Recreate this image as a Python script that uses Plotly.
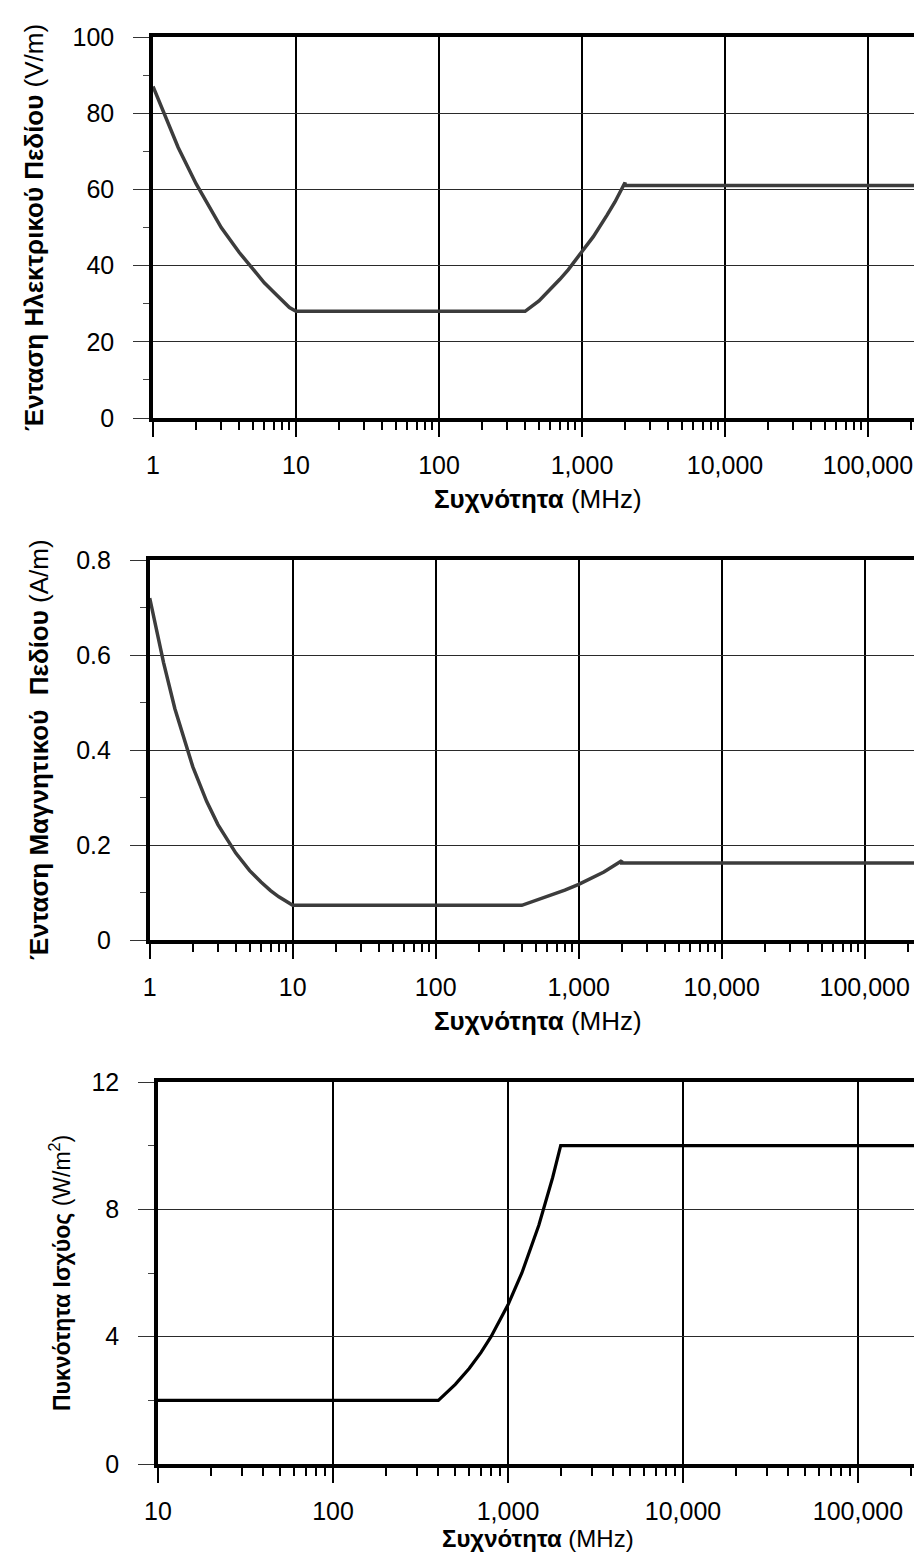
import math
import plotly.graph_objects as go

W, H = 922, 1553

# ---------------- data ----------------
# Panel 1: electric field strength (V/m) vs frequency (MHz)
e_freq = [1, 1.5, 2, 3, 4, 5, 6, 7, 8, 9, 10, 400, 500, 600, 700, 800, 1000, 1200, 1500, 1700, 2000, 2000, 300000]
e_val = [87, 71, 61.5, 50, 43.5, 39, 35.5, 33, 31, 29, 28, 28, 30.7, 33.7, 36.4, 38.9, 43.5, 47.6, 53.3, 56.7, 61.8, 61, 61]

# Panel 2: magnetic field strength (A/m) vs frequency (MHz)
h_freq = [1, 1.25, 1.5, 2, 2.5, 3, 4, 5, 6, 7, 8, 9, 10, 400, 600, 800, 1000, 1500, 2000, 2000, 300000]
h_val = [0.72, 0.584, 0.487, 0.365, 0.292, 0.243, 0.183, 0.146, 0.122, 0.104, 0.091, 0.081, 0.073,
         0.073, 0.091, 0.105, 0.117, 0.143, 0.167, 0.162, 0.162]

# Panel 3: power density (W/m2) vs frequency (MHz)
s_freq = [10, 400, 500, 600, 700, 800, 1000, 1200, 1500, 1800, 2000, 300000]
s_val = [2, 2, 2.5, 3, 3.5, 4, 5, 6, 7.5, 9, 10, 10]

# tick labels
x_ticks_a = [1, 10, 100, 1000, 10000, 100000]
x_labels_a = ["1", "10", "100", "1,000", "10,000", "100,000"]
x_ticks_b = [10, 100, 1000, 10000, 100000]
x_labels_b = ["10", "100", "1,000", "10,000", "100,000"]
y1_ticks = [0, 20, 40, 60, 80, 100]
y1_minor = [10, 30, 50, 70, 90]
y2_ticks = [0, 0.2, 0.4, 0.6, 0.8]
y2_labels = ["0", "0.2", "0.4", "0.6", "0.8"]
y2_minor = [0.1, 0.3, 0.5, 0.7]
y3_ticks = [0, 4, 8, 12]
y3_minor = [2, 6, 10]

y1_title = "<b>Ένταση Ηλεκτρικού Πεδίου</b> (V/m)"
y2_title = "<b>Ένταση Μαγνητικού  Πεδίου</b> (A/m)"
y3_title = "<b>Πυκνότητα Ισχύος</b> (W/m<sup>2</sup>)"
x_title = "<b>Συχνότητα</b> (MHz)"

# ---------------- layout geometry (pixels) ----------------
FONT = "Liberation Sans, Arial, sans-serif"
TICKFONT = dict(family=FONT, size=25, color="black")


def px_x(p):
    return p / W


def px_y(p):
    return 1 - p / H


panels = [
    dict(left=145, top=29, bottom=410, xr=[0, (W - 145) / 143.0], yr=[0, 100]),
    dict(left=141.7, top=552, bottom=932, xr=[0, (W - 141.7) / 143.0], yr=[0, 0.8]),
    dict(left=150, top=1074, bottom=1456, xr=[1, 1 + (W - 150) / 175.0], yr=[0, 12]),
]

fig = go.Figure()

line_styles = [
    dict(color="#3c3c3c", width=3.5),
    dict(color="#3c3c3c", width=3.5),
    dict(color="black", width=3.2),
]
series = [(e_freq, e_val), (h_freq, h_val), (s_freq, s_val)]
for i, (fx, fy) in enumerate(series):
    sfx = "" if i == 0 else str(i + 1)
    fig.add_trace(go.Scatter(x=fx, y=fy, mode="lines", line=line_styles[i],
                             xaxis="x" + sfx, yaxis="y" + sfx, showlegend=False,
                             hoverinfo="skip"))

xt = [(x_ticks_a, x_labels_a), (x_ticks_a, x_labels_a), (x_ticks_b, x_labels_b)]
yt = [(y1_ticks, [str(v) for v in y1_ticks], y1_minor),
      (y2_ticks, y2_labels, y2_minor),
      (y3_ticks, [str(v) for v in y3_ticks], y3_minor)]

layout = dict(
    width=W, height=H,
    template="none",
    margin=dict(l=0, r=0, t=0, b=0, autoexpand=False),
    paper_bgcolor="white", plot_bgcolor="white",
    showlegend=False,
    font=dict(family=FONT, color="black"),
)

for i, p in enumerate(panels):
    sfx = "" if i == 0 else str(i + 1)
    tv, tt = xt[i]
    layout["xaxis" + sfx] = dict(
        type="log", range=p["xr"], domain=[px_x(p["left"]), 1],
        anchor="y" + sfx, automargin=False,
        tickvals=tv, ticktext=tt, tickfont=TICKFONT,
        ticks="outside", ticklen=15, tickwidth=2, tickcolor="black",
        ticklabelstandoff=7,
        showgrid=True, gridcolor="black", gridwidth=1.6,
        showline=True, linewidth=3.5, linecolor="black", mirror=True,
        zeroline=False,
        minor=dict(dtick="D1", ticks="outside", ticklen=8, tickwidth=1.5,
                   tickcolor="black", showgrid=False),
    )
    ytv, ytt, ymin = yt[i]
    layout["yaxis" + sfx] = dict(
        range=p["yr"], domain=[px_y(p["bottom"]), px_y(p["top"])],
        anchor="x" + sfx, automargin=False,
        tickvals=ytv, ticktext=ytt, tickfont=TICKFONT,
        ticks="outside", ticklen=16, tickwidth=1.2, tickcolor="#333",
        ticklabelstandoff=14,
        showgrid=True, gridcolor="#2a2a2a", gridwidth=1,
        showline=True, linewidth=3.5, linecolor="black", mirror=False,
        zeroline=False,
        minor=dict(tickvals=ymin, ticks="outside", ticklen=6, tickwidth=1.2,
                   tickcolor="#444", showgrid=False),
    )

fig.update_layout(**layout)

ytitles = [(y1_title, 26, 220, 26), (y2_title, 31, 742, 26), (y3_title, 52, 1265, 23)]
for txt, cx, cy, fs in ytitles:
    fig.add_annotation(text=txt, x=px_x(cx), y=px_y(cy), xref="paper", yref="paper",
                       xanchor="center", yanchor="middle", textangle=-90,
                       showarrow=False, font=dict(family=FONT, size=fs, color="black"))

xtitles = [(530, 491, 26), (530, 1013, 26), (530, 1530, 24)]
for cx, cy, fs in xtitles:
    fig.add_annotation(text=x_title, x=px_x(cx), y=px_y(cy), xref="paper", yref="paper",
                       xanchor="center", yanchor="middle",
                       showarrow=False, font=dict(family=FONT, size=fs, color="black"))

fig.write_html("out.html")
